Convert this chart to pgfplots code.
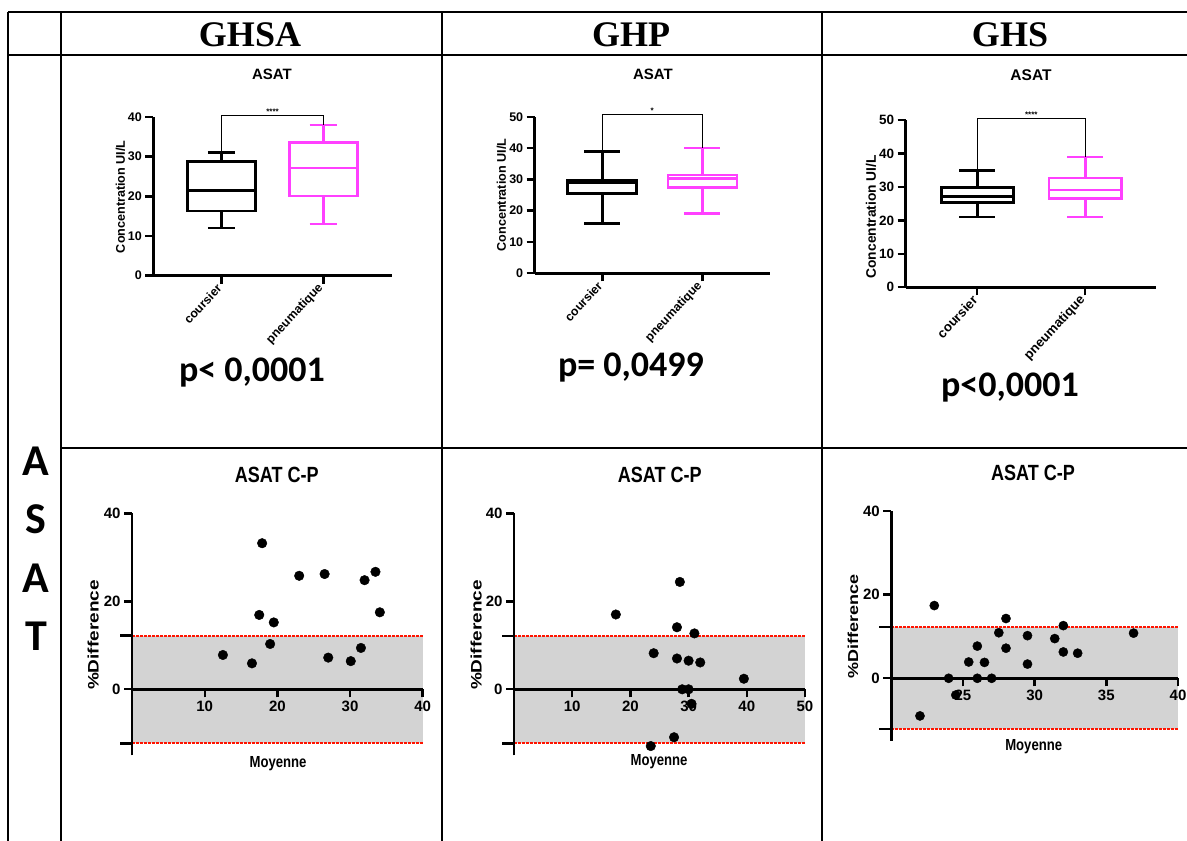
\documentclass[border=0pt]{standalone}
\usepackage{fontspec}
\setmainfont{Liberation Sans}
\newfontfamily\condf[FakeStretch=0.82]{Liberation Sans}
\newfontfamily\calib{Carlito}
\newfontfamily\timesf{Liberation Serif}
\usepackage{graphicx}
\usepackage{pgfplots}
\pgfplotsset{compat=1.18}
\usepgfplotslibrary{statistics}
\definecolor{pinkm}{RGB}{255,64,255}
\definecolor{bandgray}{RGB}{211,211,211}
\definecolor{dotred}{RGB}{255,20,0}

\pgfplotsset{
  boxax/.style={
    scale only axis, anchor=south west,
    axis x line*=bottom, axis y line*=left,
    axis line style={line width=2.6pt},
    tick align=outside, major tick length=8pt,
    tick style={black, line width=2.4pt},
    xtick={1,2}, xticklabels={coursier,pneumatique},
    xticklabel style={rotate=47, anchor=east, font=\bfseries\fontsize{12.3}{13}\selectfont},
    yticklabel style={font=\bfseries\fontsize{12.5}{13}\selectfont},
    /pgf/number format/assume math mode=true,
    ymin=0, clip=false,
    boxplot/draw direction=y,
  },
  baax/.style={
    scale only axis, anchor=south west,
    axis x line*=middle, axis y line*=left,
    axis on top, clip=false,
    hide obscured x ticks=false, hide obscured y ticks=false,
    axis line style={line width=2.6pt},
    tick align=outside, major tick length=8pt,
    tick style={black, line width=2.4pt},
    ymin=-15, ymax=40, ytick={0,20,40},
    extra y tick labels={},
    extra y tick style={major tick length=12pt},
    ticklabel style={font=\bfseries\fontsize{15}{15}\selectfont},
    /pgf/number format/assume math mode=true,
  },
  reddot/.style={dotred, line width=2pt, dash pattern=on 3pt off 1pt},
}

\begin{document}
\begin{tikzpicture}
\path[use as bounding box, fill=white] (0pt,0pt) rectangle (1187pt,841pt);

% ---------------- table rules ----------------
\begin{scope}[line width=2.2pt]
\draw (8pt,829pt) -- (1187pt,829pt);
\draw (8pt,786pt) -- (1187pt,786pt);
\draw (61pt,393pt) -- (1187pt,393pt);
\draw (8pt,829pt) -- (8pt,0pt);
\draw (61pt,829pt) -- (61pt,0pt);
\draw (442pt,829pt) -- (442pt,0pt);
\draw (822pt,829pt) -- (822pt,0pt);
\end{scope}

% headers
\node[font=\timesf\bfseries\fontsize{36}{36}\selectfont, anchor=base] at (250pt,794pt) {GHSA};
\node[font=\timesf\bfseries\fontsize{36}{36}\selectfont, anchor=base] at (631pt,794pt) {GHP};
\node[font=\timesf\bfseries\fontsize{36}{36}\selectfont, anchor=base] at (1010pt,794pt) {GHS};

% row label
\node[font=\calib\bfseries\fontsize{44}{44}\selectfont] at (36pt,379.5pt) {A};
\node[font=\calib\bfseries\fontsize{44}{44}\selectfont] at (36pt,322pt) {S};
\node[font=\calib\bfseries\fontsize{44}{44}\selectfont] at (36pt,263pt) {A};
\node[font=\calib\bfseries\fontsize{44}{44}\selectfont] at (36pt,204.5pt) {T};

% ================= GHSA box plot =================
\begin{axis}[boxax, at={(153.3pt,565.3pt)}, width=238.4pt, height=158.7pt,
  xmin=0.327, xmax=2.673, ymax=40, ytick={0,10,20,30,40}]
\addplot[black, line width=2.8pt, boxplot/draw direction=y, boxplot prepared={draw position=1,
  lower whisker=12, lower quartile=16.3, median=21.4, upper quartile=28.7,
  upper whisker=31, box extend=0.67, whisker extend=0.27}] coordinates {};
\addplot[pinkm, line width=2.6pt, boxplot/draw direction=y, boxplot prepared={draw position=2,
  lower whisker=13, lower quartile=20.1, median=27.1, upper quartile=33.5,
  upper whisker=38, box extend=0.67, whisker extend=0.27}] coordinates {};
\addplot[black, line width=0.8pt] coordinates {(1,31) (1,40.5) (2,40.5) (2,38)};
\node[font=\bfseries\fontsize{8}{8}\selectfont] at (axis cs:1.5,41.4) {****};
\end{axis}
\node[font=\bfseries\fontsize{15}{15}\selectfont] at (272pt,767pt) {ASAT};
\node[font=\bfseries\fontsize{12.6}{13}\selectfont, rotate=90] at (120.5pt,644.3pt) {Concentration UI/L};
\node[font=\calib\bfseries\fontsize{36}{36}\selectfont, anchor=base] at (252pt,459pt) {p< 0,0001};

% ================= GHP box plot =================
\begin{axis}[boxax, at={(534.7pt,567.7pt)}, width=235.6pt, height=156.6pt,
  xmin=0.324, xmax=2.68, ymax=50, ytick={0,10,20,30,40,50}]
\addplot[black, line width=2.8pt, boxplot/draw direction=y, boxplot prepared={draw position=1,
  lower whisker=16, lower quartile=25.5, median=28.9, upper quartile=29.6,
  upper whisker=39, box extend=0.69, whisker extend=0.36}] coordinates {};
\addplot[pinkm, line width=2.6pt, boxplot/draw direction=y, boxplot prepared={draw position=2,
  lower whisker=19, lower quartile=27.3, median=30.3, upper quartile=31.4,
  upper whisker=40, box extend=0.69, whisker extend=0.36}] coordinates {};
\addplot[black, line width=0.8pt] coordinates {(1,39) (1,50.7) (2,50.7) (2,40)};
\node[font=\bfseries\fontsize{8}{8}\selectfont] at (axis cs:1.5,51.8) {*};
\end{axis}
\node[font=\bfseries\fontsize{15}{15}\selectfont] at (653pt,767pt) {ASAT};
\node[font=\bfseries\fontsize{12.6}{13}\selectfont, rotate=90] at (501.5pt,646pt) {Concentration UI/L};
\node[font=\calib\bfseries\fontsize{36}{36}\selectfont, anchor=base] at (631pt,464pt) {p= 0,0499};

% ================= GHS box plot =================
\begin{axis}[boxax, at={(905.7pt,553.7pt)}, width=250.3pt, height=167.3pt,
  xmin=0.337, xmax=2.655, ymax=50, ytick={0,10,20,30,40,50},
  xticklabel style={font=\bfseries\fontsize{13.2}{14}\selectfont},
  yticklabel style={font=\bfseries\fontsize{13.5}{14}\selectfont}]
\addplot[black, line width=2.8pt, boxplot/draw direction=y, boxplot prepared={draw position=1,
  lower whisker=21, lower quartile=25.4, median=27.1, upper quartile=29.8,
  upper whisker=35, box extend=0.67, whisker extend=0.33}] coordinates {};
\addplot[pinkm, line width=2.6pt, boxplot/draw direction=y, boxplot prepared={draw position=2,
  lower whisker=21, lower quartile=26.5, median=29.1, upper quartile=32.7,
  upper whisker=39, box extend=0.67, whisker extend=0.33}] coordinates {};
\addplot[black, line width=0.8pt] coordinates {(1,35) (1,50.5) (2,50.5) (2,39)};
\node[font=\bfseries\fontsize{8}{8}\selectfont] at (axis cs:1.5,51.6) {****};
\end{axis}
\node[font=\bfseries\fontsize{15.5}{16}\selectfont] at (1031pt,766pt) {ASAT};
\node[font=\bfseries\fontsize{13.8}{14}\selectfont, rotate=90] at (871pt,624.3pt) {Concentration UI/L};
\node[font=\calib\bfseries\fontsize{36}{36}\selectfont, anchor=base] at (1010pt,444pt) {p<0,0001};

% ================= GHSA Bland-Altman =================
\begin{axis}[baax, at={(132.1pt,85.7pt)}, width=290.6pt, height=242pt,
  xmin=0, xmax=40, xtick={10,20,30,40}, extra y ticks={-12.3,12.2}]
\addplot[draw=none, fill=bandgray] coordinates {(0,-12.3) (40,-12.3) (40,12.2) (0,12.2)};
\addplot[reddot] coordinates {(0,12.2) (40,12.2)};
\addplot[reddot] coordinates {(0,-12.3) (40,-12.3)};
\addplot[only marks, mark=*, mark size=4.8pt, black] coordinates {
 (12.5,7.8) (16.5,5.9) (17.9,33.2) (17.5,16.9) (19.5,15.2) (19.0,10.3)
 (23.0,25.8) (26.5,26.2) (27.0,7.2) (30.1,6.4) (31.5,9.4) (32.0,24.8)
 (33.5,26.7) (34.1,17.5)};
\end{axis}
\node[font=\condf\bfseries\fontsize{22}{22}\selectfont] at (276.7pt,366pt) {ASAT C-P};
\node[font=\bfseries\fontsize{19}{19}\selectfont, rotate=90] at (93.3pt,206pt) {\scalebox{1}[0.8]{\%Difference}};
\node[font=\condf\bfseries\fontsize{16}{16}\selectfont] at (278pt,77.7pt) {Moyenne};

% ================= GHP Bland-Altman =================
\begin{axis}[baax, at={(514pt,85.7pt)}, width=291pt, height=242pt,
  xmin=0, xmax=50, xtick={10,20,30,40,50}, extra y ticks={-12.3,12.1}]
\addplot[draw=none, fill=bandgray] coordinates {(0,-12.3) (50,-12.3) (50,12.1) (0,12.1)};
\addplot[reddot] coordinates {(0,12.1) (50,12.1)};
\addplot[reddot] coordinates {(0,-12.3) (50,-12.3)};
\addplot[only marks, mark=*, mark size=4.8pt, black] coordinates {
 (17.5,17.0) (24.0,8.2) (23.5,-12.9) (27.5,-10.9) (28.5,24.4) (28.0,14.1)
 (28.0,7.0) (28.9,0) (30.0,0) (30.0,6.5) (30.5,-3.3) (31.0,12.7)
 (32.0,6.1) (39.5,2.4)};
\end{axis}
\node[font=\condf\bfseries\fontsize{22}{22}\selectfont] at (659.7pt,366pt) {ASAT C-P};
\node[font=\bfseries\fontsize{19}{19}\selectfont, rotate=90] at (476.3pt,206pt) {\scalebox{1}[0.8]{\%Difference}};
\node[font=\condf\bfseries\fontsize{16}{16}\selectfont] at (659pt,79.3pt) {Moyenne};

% ================= GHS Bland-Altman =================
\begin{axis}[baax, at={(891.3pt,100pt)}, width=286.7pt, height=229.9pt,
  xmin=20, xmax=40, xtick={25,30,35,40}, extra y ticks={-12.2,12.3}]
\addplot[draw=none, fill=bandgray] coordinates {(20,-12.2) (40,-12.2) (40,12.3) (20,12.3)};
\addplot[reddot] coordinates {(20,12.3) (40,12.3)};
\addplot[reddot] coordinates {(20,-12.2) (40,-12.2)};
\addplot[only marks, mark=*, mark size=4.6pt, black] coordinates {
 (22.0,-9.0) (23.0,17.4) (24.0,0) (24.5,-4.0) (25.4,3.9) (26.0,7.7)
 (26.0,0) (26.5,3.8) (27.0,0) (27.5,10.9) (28.0,14.3) (28.0,7.2)
 (29.5,10.2) (29.5,3.4) (31.4,9.5) (32.0,12.6) (32.0,6.3) (33.0,6.0)
 (36.9,10.8)};
\end{axis}
\node[font=\condf\bfseries\fontsize{22}{22}\selectfont] at (1033pt,367.7pt) {ASAT C-P};
\node[font=\bfseries\fontsize{18}{18}\selectfont, rotate=90] at (853pt,214.3pt) {\scalebox{1}[0.8]{\%Difference}};
\node[font=\condf\bfseries\fontsize{16}{16}\selectfont] at (1033.7pt,94.3pt) {Moyenne};
\end{tikzpicture}
\end{document}
